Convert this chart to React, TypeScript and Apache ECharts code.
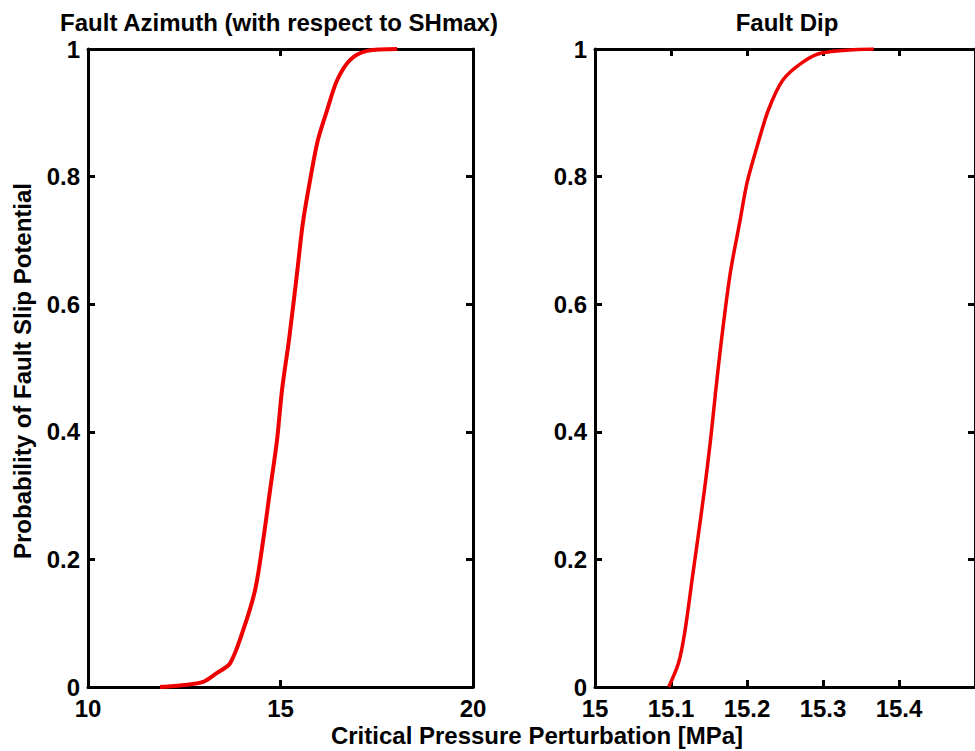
import React, { useEffect, useRef } from "react";
import * as echarts from "echarts";

const azimuthX = [11.87, 12.5, 12.99, 13.35, 13.69, 14.03, 14.34, 14.55, 14.73, 14.91, 15.04, 15.22, 15.43, 15.58, 15.77, 15.97, 16.21, 16.47, 16.81, 17.25, 18.03];
const azimuthY = [0, 0.003, 0.008, 0.022, 0.037, 0.089, 0.152, 0.23, 0.309, 0.387, 0.466, 0.544, 0.649, 0.727, 0.795, 0.857, 0.904, 0.951, 0.983, 0.997, 1.0];

const dipX = [15.097, 15.11, 15.118, 15.129, 15.135, 15.144, 15.152, 15.159, 15.167, 15.178, 15.191, 15.2, 15.213, 15.228, 15.247, 15.273, 15.299, 15.367];
const dipY = [0, 0.038, 0.085, 0.179, 0.23, 0.309, 0.387, 0.466, 0.55, 0.649, 0.732, 0.79, 0.846, 0.904, 0.951, 0.979, 0.994, 1.0];

const titles = ["Fault Azimuth (with respect to SHmax)", "Fault Dip"];
const xLabel = "Critical Pressure Perturbation [MPa]";
const yLabel = "Probability of Fault Slip Potential";

const FONT = "'Liberation Sans', Arial, Helvetica, sans-serif";

export default function App() {
  const ref = useRef<HTMLDivElement>(null);
  useEffect(() => {
    if (!ref.current) return;
    const chart = echarts.init(ref.current, null, { renderer: "svg" });
    const lbl = { fontFamily: FONT, fontWeight: "bold" as const, fontSize: 24, color: "#000" };
    const line = { show: true, onZero: false, lineStyle: { color: "#000", width: 3 } };
    const tick = { show: true, inside: true, length: 7, lineStyle: { color: "#000", width: 3 } };
    const xAxes: any[] = [];
    const yAxes: any[] = [];
    const ranges = [
      { min: 10, max: 20, interval: 5 },
      { min: 15, max: 15.5, interval: 0.1 },
    ];
    ranges.forEach((r, i) => {
      xAxes.push({
        type: "value", gridIndex: i, position: "bottom", min: r.min, max: r.max, interval: r.interval,
        axisLine: line, axisTick: tick, splitLine: { show: false },
        axisLabel: { ...lbl, margin: 9, showMaxLabel: i === 0 },
      });
      xAxes.push({
        type: "value", gridIndex: i, position: "top", min: r.min, max: r.max, interval: r.interval,
        axisLine: line, axisTick: tick, splitLine: { show: false }, axisLabel: { show: false },
      });
      yAxes.push({
        type: "value", gridIndex: i, position: "left", min: 0, max: 1, interval: 0.2,
        axisLine: line, axisTick: tick, splitLine: { show: false },
        axisLabel: { ...lbl, margin: 8 },
      });
      yAxes.push({
        type: "value", gridIndex: i, position: "right", min: 0, max: 1, interval: 0.2,
        axisLine: line, axisTick: tick, splitLine: { show: false }, axisLabel: { show: false },
      });
    });
    chart.setOption({
      animation: false,
      backgroundColor: "#fff",
      grid: [
        { left: 88, top: 49, width: 385, height: 638 },
        { left: 595, top: 49, width: 385, height: 638 },
      ],
      xAxis: xAxes,
      yAxis: yAxes,
      series: [
        {
          type: "line", xAxisIndex: 0, yAxisIndex: 0, showSymbol: false, smooth: 0.3,
          lineStyle: { color: "#ee0000", width: 4 }, z: 5,
          data: azimuthX.map((x, k) => [x, azimuthY[k]]),
        },
        {
          type: "line", xAxisIndex: 2, yAxisIndex: 2, showSymbol: false, smooth: 0.3,
          lineStyle: { color: "#ee0000", width: 3.5 }, z: 5,
          data: dipX.map((x, k) => [x, dipY[k]]),
        },
      ],
      graphic: [
        { type: "text", x: 279, y: 22, style: { text: titles[0], fill: "#000", font: `bold 24px ${FONT}`, textAlign: "center", textVerticalAlign: "middle" } },
        { type: "text", x: 787, y: 22, style: { text: titles[1], fill: "#000", font: `bold 24px ${FONT}`, textAlign: "center", textVerticalAlign: "middle" } },
        { type: "text", x: 537, y: 735, style: { text: xLabel, fill: "#000", font: `bold 24px ${FONT}`, textAlign: "center", textVerticalAlign: "middle" } },
        { type: "text", x: 22, y: 371, rotation: Math.PI / 2, style: { text: yLabel, fill: "#000", font: `bold 24px ${FONT}`, textAlign: "center", textVerticalAlign: "middle" } },
      ],
    });
    return () => chart.dispose();
  }, []);
  return <div ref={ref} style={{ position: "fixed", left: 0, top: 0, width: 975, height: 751, background: "#fff" }} />;
}
